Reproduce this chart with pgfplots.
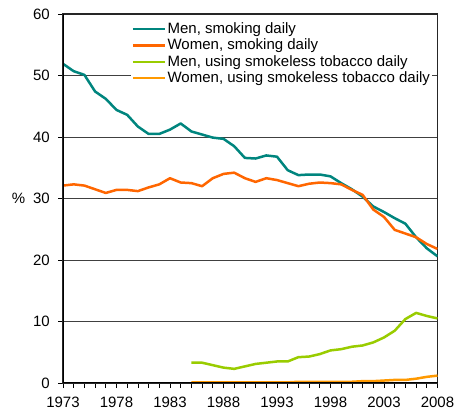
\documentclass[border=0pt]{standalone}
\usepackage{pgfplots}
\pgfplotsset{compat=1.18}
\usepackage{fontspec}
\setmainfont{Liberation Sans}
\definecolor{menS}{HTML}{00857E}
\definecolor{womenS}{HTML}{FF6600}
\definecolor{menSL}{HTML}{99CC00}
\definecolor{womenSL}{HTML}{FF9900}
\begin{document}
\fontsize{15bp}{17bp}\selectfont
\begin{tikzpicture}
\path[use as bounding box] (0,0) rectangle (466bp,416bp);
\begin{axis}[
  scale only axis,
  width=374.5bp, height=369bp,
  at={(63bp,33bp)}, anchor=south west,
  xmin=1973, xmax=2008, ymin=0, ymax=60,
  xtick={1973,1978,...,2008},
  minor x tick num=4,
  ytick={0,10,...,60},
  tick pos=left,
  tick align=outside,
  major tick length=5bp, minor tick length=5bp,
  tick style={black, line width=0.8bp},
  ymajorgrids,
  major grid style={black!75, line width=0.8bp},
  axis line style={black!85, line width=1.2bp},
  /pgf/number format/assume math mode=true,
  xticklabel style={/pgf/number format/1000 sep={}, font=\fontsize{15bp}{17bp}\selectfont, yshift=-4bp},
  yticklabel style={font=\fontsize{15bp}{17bp}\selectfont, xshift=-3bp},
  ylabel={\%},
  ylabel style={rotate=-90, at={(axis description cs:-0.119,0.5)}, anchor=center, font=\fontsize{15bp}{17bp}\selectfont},
  legend style={at={(axis description cs:0.18,0.984)}, anchor=north west, fill=white, draw=none,
    font=\fontsize{15bp}{16.7bp}\selectfont, inner sep=1bp, row sep=0.2bp,
    nodes={inner sep=1.5bp}},
  legend cell align=left,
  legend image code/.code={\draw[#1, line width=2.5bp] (0bp,0bp) -- (32bp,0bp);},
  every axis plot/.append style={line width=2.5bp, line join=round, mark=none},
]
\addplot[menS] coordinates {
(1973,51.9)(1974,50.7)(1975,50.1)(1976,47.4)(1977,46.2)(1978,44.4)(1979,43.6)(1980,41.7)
(1981,40.5)(1982,40.5)(1983,41.2)(1984,42.2)(1985,40.9)(1986,40.4)(1987,39.9)(1988,39.7)
(1989,38.5)(1990,36.6)(1991,36.5)(1992,37.0)(1993,36.8)(1994,34.6)(1995,33.8)(1996,33.9)
(1997,33.9)(1998,33.6)(1999,32.5)(2000,31.5)(2001,30.3)(2002,28.7)(2003,27.8)(2004,26.8)
(2005,25.9)(2006,23.7)(2007,21.9)(2008,20.6)};
\addlegendentry{Men, smoking daily}
\addplot[womenS] coordinates {
(1973,32.1)(1974,32.3)(1975,32.1)(1976,31.5)(1977,30.9)(1978,31.4)(1979,31.4)(1980,31.2)
(1981,31.8)(1982,32.3)(1983,33.3)(1984,32.6)(1985,32.5)(1986,32.0)(1987,33.3)(1988,34.0)
(1989,34.2)(1990,33.3)(1991,32.7)(1992,33.3)(1993,33.0)(1994,32.5)(1995,32.0)(1996,32.4)
(1997,32.6)(1998,32.5)(1999,32.3)(2000,31.4)(2001,30.6)(2002,28.2)(2003,27.0)(2004,24.9)
(2005,24.3)(2006,23.7)(2007,22.6)(2008,21.8)};
\addlegendentry{Women, smoking daily}
\addplot[menSL] coordinates {
(1985,3.3)(1986,3.3)(1987,2.9)(1988,2.5)(1989,2.3)(1990,2.7)(1991,3.1)(1992,3.3)
(1993,3.5)(1994,3.5)(1995,4.2)(1996,4.3)(1997,4.7)(1998,5.3)(1999,5.5)(2000,5.9)
(2001,6.1)(2002,6.6)(2003,7.4)(2004,8.5)(2005,10.4)(2006,11.4)(2007,10.9)(2008,10.5)};
\addlegendentry{Men, using smokeless tobacco daily}
\addplot[womenSL] coordinates {
(1985,0.1)(1986,0.1)(1987,0.1)(1988,0.1)(1989,0.1)(1990,0.1)(1991,0.1)(1992,0.1)
(1993,0.1)(1994,0.1)(1995,0.2)(1996,0.2)(1997,0.2)(1998,0.2)(1999,0.2)(2000,0.2)
(2001,0.3)(2002,0.3)(2003,0.4)(2004,0.5)(2005,0.5)(2006,0.7)(2007,1.0)(2008,1.2)};
\addlegendentry{Women, using smokeless tobacco daily}
\draw[black, line width=2.3bp] (rel axis cs:0,1) -- (rel axis cs:0,0) -- (rel axis cs:1,0);
\end{axis}
\end{tikzpicture}
\end{document}
